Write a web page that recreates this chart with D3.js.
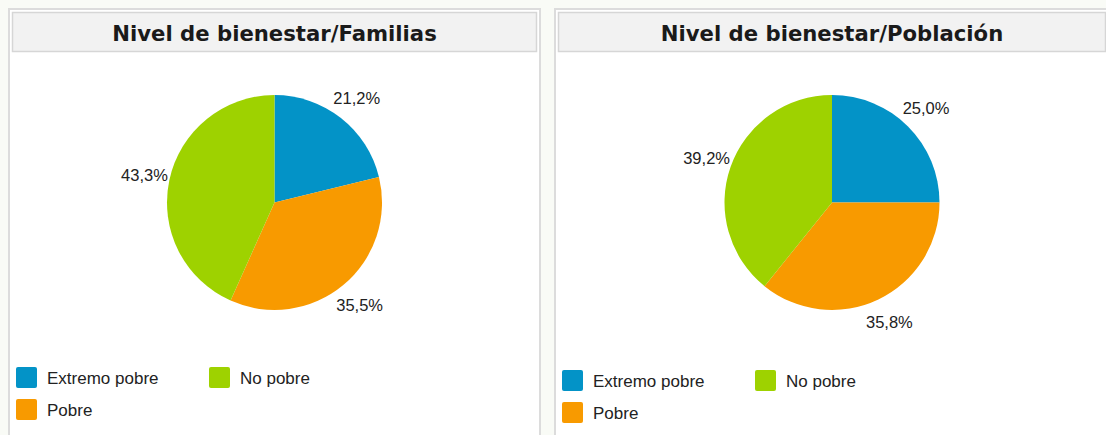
<!DOCTYPE html>
<html>
<head>
<meta charset="utf-8">
<script src="https://cdn.jsdelivr.net/npm/d3@7"></script>
<style>
  body { margin: 0; background: #f9fbf6; }
  svg { display: block; }
</style>
</head>
<body>
<svg width="1106" height="435"></svg>
<script>
const categories = ["Extremo pobre", "Pobre", "No pobre"];
const colors = ["#0393c7", "#f89a00", "#9ed200"];
const titles = ["Nivel de bienestar/Familias", "Nivel de bienestar/Población"];
const familias = [21.2, 35.5, 43.3];
const poblacion = [25.0, 35.8, 39.2];
const series = [familias, poblacion];

// panel boxes (left edge, width) and legend top
const panelX = [8, 554];
const panelW = [533, 556];
const legendTop = [367, 370];

const svg = d3.select("svg");
const height = +svg.attr("height");
const radius = 107.5;
const labelRadius = 133;

const color = d3.scaleOrdinal().domain(categories).range(colors);
const pie = d3.pie().sort(null).value(d => d.value);
const arc = d3.arc().innerRadius(0).outerRadius(radius);
const labelArc = d3.arc().innerRadius(labelRadius).outerRadius(labelRadius);
const fmt = v => d3.format(".1f")(v).replace(".", ",") + "%";

series.forEach((values, i) => {
  const x0 = panelX[i];
  const w = panelW[i];
  const g = svg.append("g").attr("transform", `translate(${x0},0)`);

  g.append("rect")
    .attr("x", 1)
    .attr("y", 9)
    .attr("width", w - 2)
    .attr("height", height)
    .attr("fill", "#fff")
    .attr("stroke", "#dcdcdc")
    .attr("stroke-width", 2);

  g.append("rect")
    .attr("x", 4.5)
    .attr("y", 12.5)
    .attr("width", w - 9)
    .attr("height", 39)
    .attr("fill", "#f2f2f2")
    .attr("stroke", "#d6d6d6")
    .attr("stroke-width", 1.5);

  const cx = 4 + (w - 8) / 2;

  g.append("text")
    .attr("x", cx)
    .attr("y", 33)
    .attr("text-anchor", "middle")
    .attr("dominant-baseline", "central")
    .style("font-family", "'DejaVu Sans', sans-serif")
    .style("font-weight", "bold")
    .style("font-size", "21.2px")
    .attr("fill", "#1a1a1a")
    .text(titles[i]);

  const data = categories.map((c, k) => ({ key: c, value: values[k] }));
  const arcs = pie(data);

  const pg = g.append("g").attr("transform", `translate(${cx},202.5)`);
  pg.selectAll("path")
    .data(arcs)
    .enter()
    .append("path")
    .attr("d", arc)
    .attr("fill", d => color(d.data.key));

  pg.selectAll("text")
    .data(arcs)
    .enter()
    .append("text")
    .attr("transform", d => `translate(${labelArc.centroid(d)})`)
    .attr("text-anchor", "middle")
    .attr("dominant-baseline", "central")
    .style("font-family", "'Liberation Sans', Arial, sans-serif")
    .style("font-size", "16.5px")
    .attr("fill", "#222")
    .text(d => fmt(d.data.value));

  // legend: two columns, row-major
  const lg = g.append("g").attr("transform", `translate(8,${legendTop[i]})`);
  const item = lg.selectAll("g")
    .data([categories[0], categories[2], categories[1]])
    .enter()
    .append("g")
    .attr("transform", (d, k) => `translate(${(k % 2) * 193},${Math.floor(k / 2) * 32})`);
  item.append("rect")
    .attr("width", 21)
    .attr("height", 21)
    .attr("rx", 2)
    .attr("fill", d => color(d));
  item.append("text")
    .attr("x", 31)
    .attr("y", 11.5)
    .attr("dominant-baseline", "central")
    .style("font-family", "'Liberation Sans', Arial, sans-serif")
    .style("font-size", "17px")
    .attr("fill", "#222")
    .text(d => d);
});
</script>
</body>
</html>
